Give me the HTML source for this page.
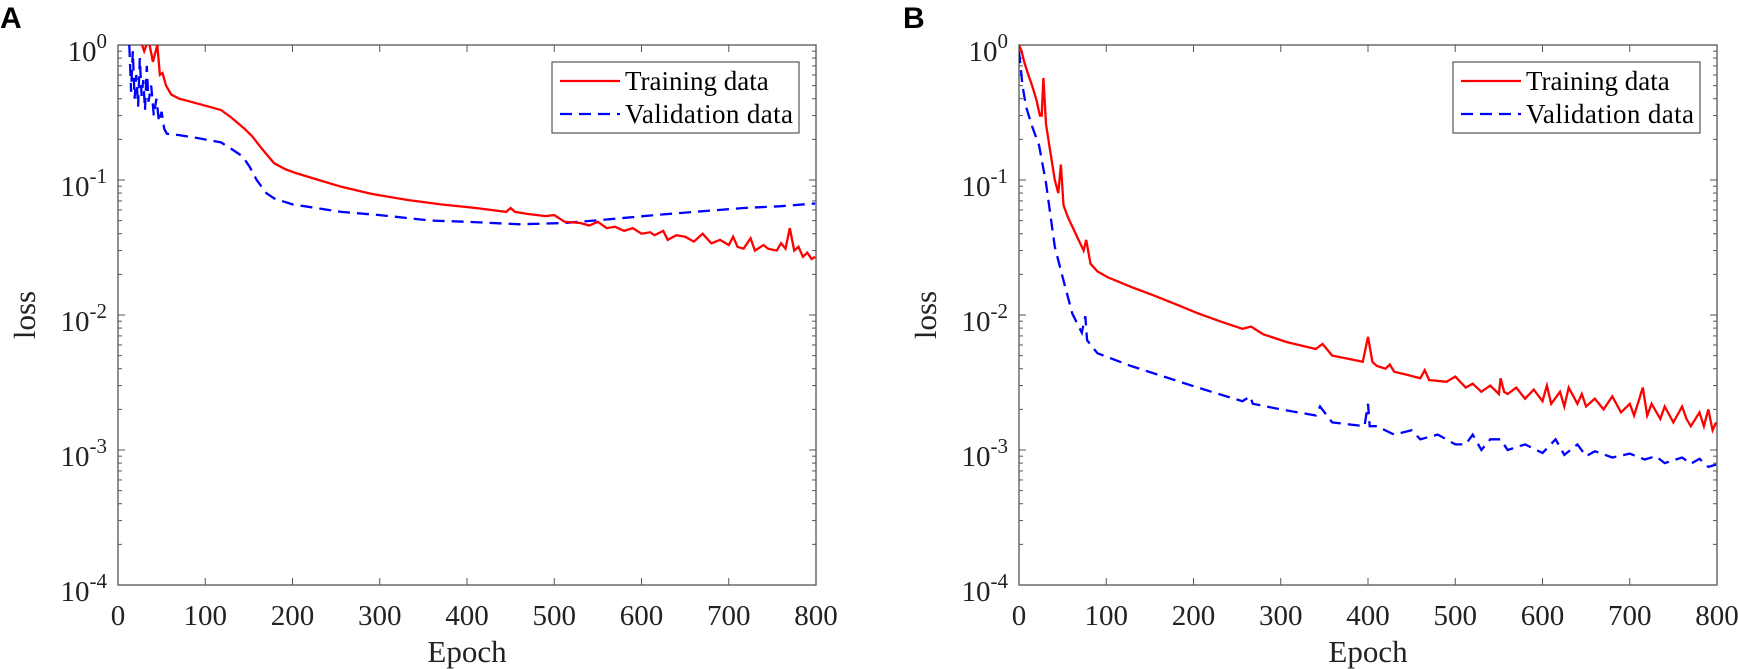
<!DOCTYPE html>
<html><head><meta charset="utf-8">
<style>
body{margin:0;background:#fff;}
svg{display:block;font-family:"Liberation Serif",serif;}
</style></head>
<body>
<svg id="chart" width="1738" height="669" viewBox="0 0 1738 669" xmlns="http://www.w3.org/2000/svg">
<text x="0" y="28" font-family="Liberation Sans, sans-serif" font-weight="bold" font-size="30">A</text>
<text x="903" y="28" font-family="Liberation Sans, sans-serif" font-weight="bold" font-size="30">B</text>
</svg>
<script>
// Panel A data
const aTrainEpochs = [25,30,35,40,45,48,51,55,61,70,77,90,100,118,130,145,154,165,179,192,205,230,256,290,333,370,410,445,450,455,470,490,500,512,530,540,550,560,570,580,590,600,610,615,625,630,640,650,660,670,680,690,700,705,710,717,725,730,740,745,755,760,765,770,775,780,785,790,795,799];
const aTrainLoss   = [1.2,0.9,1.1,0.75,1.0,0.6,0.62,0.5,0.43,0.40,0.39,0.37,0.355,0.33,0.29,0.24,0.21,0.17,0.133,0.12,0.112,0.10,0.089,0.079,0.071,0.066,0.062,0.058,0.062,0.058,0.056,0.054,0.055,0.049,0.048,0.046,0.049,0.044,0.045,0.042,0.044,0.040,0.041,0.039,0.042,0.036,0.039,0.038,0.035,0.040,0.034,0.036,0.033,0.038,0.032,0.031,0.037,0.030,0.033,0.031,0.030,0.034,0.031,0.044,0.030,0.032,0.027,0.029,0.026,0.027];
const aValEpochs = [13,15,17,19,21,23,25,27,29,31,33,35,38,41,44,47,50,53,56,70,90,118,130,143,151,159,170,179,200,256,300,359,400,461,512,560,615,660,717,760,799];
const aValLoss   = [1.0,0.45,0.9,0.4,0.6,0.35,0.8,0.42,0.55,0.33,0.7,0.38,0.5,0.3,0.4,0.27,0.32,0.24,0.22,0.215,0.205,0.19,0.17,0.149,0.125,0.1,0.08,0.073,0.066,0.058,0.055,0.05,0.049,0.047,0.048,0.051,0.055,0.058,0.062,0.064,0.067];
// Panel B data
const bTrainEpochs = [0,3,6,10,15,20,24,26,28,31,36,41,45,48,51,56,65,74,77,82,90,102,130,154,180,205,230,256,266,280,307,340,348,359,380,394,400,405,410,420,425,430,445,460,465,470,490,500,512,520,530,540,550,552,556,560,570,580,590,600,605,610,620,625,630,640,645,650,660,670,680,690,700,705,715,720,725,735,740,750,760,765,770,780,785,790,795,799];
const bTrainLoss   = [1.0,0.9,0.75,0.62,0.5,0.39,0.3,0.3,0.57,0.26,0.16,0.1,0.08,0.13,0.065,0.053,0.04,0.03,0.036,0.024,0.021,0.019,0.016,0.014,0.012,0.0103,0.009,0.0079,0.0082,0.0072,0.0063,0.0056,0.0061,0.005,0.0047,0.0045,0.0069,0.0045,0.0042,0.0040,0.0043,0.0038,0.0036,0.0034,0.0039,0.0033,0.0032,0.0035,0.0029,0.0031,0.0027,0.0030,0.0026,0.0034,0.0027,0.0026,0.0029,0.0024,0.0028,0.0023,0.0030,0.0022,0.0027,0.0021,0.0029,0.0022,0.0026,0.0021,0.0024,0.0020,0.0025,0.0019,0.0022,0.0018,0.0029,0.0018,0.0022,0.0017,0.0021,0.0016,0.0021,0.0017,0.0015,0.0019,0.0015,0.0020,0.0014,0.0016];
const bValEpochs = [0,4,8,15,23,31,41,51,61,72,76,78,90,128,205,256,265,268,300,340,345,359,396,400,402,410,430,450,460,480,500,512,520,530,540,552,560,580,600,615,625,640,650,660,680,700,717,730,740,760,770,780,790,799];
const bValLoss   = [0.9,0.5,0.35,0.25,0.18,0.095,0.032,0.018,0.0103,0.0074,0.0098,0.0065,0.0052,0.0042,0.0029,0.0023,0.0025,0.0022,0.002,0.0018,0.0021,0.0016,0.0015,0.0022,0.0015,0.0015,0.0013,0.0014,0.0012,0.0013,0.0011,0.0011,0.0013,0.0010,0.0012,0.0012,0.0010,0.0011,0.00095,0.0012,0.00092,0.0011,0.0009,0.00098,0.00088,0.00094,0.00085,0.0009,0.0008,0.00088,0.00079,0.00086,0.00075,0.00078];
const xTicks = [0,100,200,300,400,500,600,700,800];
const yDecades = [-4,-3,-2,-1,0];

const NS='http://www.w3.org/2000/svg';
const svg=document.getElementById('chart');
function mk(tag,attrs,parent){const e=document.createElementNS(NS,tag);for(const k in attrs)e.setAttribute(k,attrs[k]);(parent||svg).appendChild(e);return e;}

function panel(id,L,trainE,trainL,valE,valL){
  const R=L+698,T=45,B=585;
  const xs=v=>L+(v/800)*(R-L);
  const ys=v=>{let lv=Math.log10(v);lv=Math.min(0.05,lv);return T+(0-lv)/4*(B-T);};
  const g=mk('g',{});
  
  
  const clipId='clip-'+id;
  const cp=mk('clipPath',{id:clipId},g);mk('rect',{x:L,y:T,width:R-L,height:B-T},cp);
  xTicks.forEach(t=>{
    const x=xs(t);
    mk('line',{x1:x,y1:B,x2:x,y2:B-7,stroke:'#555','stroke-width':1},g);
    mk('line',{x1:x,y1:T,x2:x,y2:T+7,stroke:'#555','stroke-width':1},g);
    const tx=mk('text',{x:x,y:625,'text-anchor':'middle','font-size':29,fill:'#222'},g);
    tx.textContent=t;
    
    
  });
  yDecades.forEach(d=>{
    const y=T+(0-d)/4*(B-T);
    mk('line',{x1:L,y1:y,x2:L+7,y2:y,stroke:'#555','stroke-width':1},g);
    mk('line',{x1:R,y1:y,x2:R-7,y2:y,stroke:'#555','stroke-width':1},g);
    if(d<0){for(let m=2;m<=9;m++){const yy=T+(0-(d+Math.log10(m)))/4*(B-T);
      mk('line',{x1:L,y1:yy,x2:L+4,y2:yy,stroke:'#555','stroke-width':1},g);
      mk('line',{x1:R,y1:yy,x2:R-4,y2:yy,stroke:'#555','stroke-width':1},g);}}
    const tx=mk('text',{x:L-11,y:y+16,'text-anchor':'end','font-size':29,fill:'#222'},g);
    
    
    const a=mk('tspan',{},tx);a.textContent='10';
    const s=mk('tspan',{dy:-13,'font-size':21},tx);s.textContent=String(d);
  });
  mk('rect',{x:L,y:T,width:R-L,height:B-T,fill:'none',stroke:'#555','stroke-width':1.3},g);
  const yl=mk('text',{x:L-83,y:(T+B)/2,'text-anchor':'middle','font-size':31,fill:'#222',transform:`rotate(-90 ${L-83} ${(T+B)/2})`},g);
  yl.textContent='loss';
  
  
  const xl=mk('text',{x:(L+R)/2,y:662,'text-anchor':'middle','font-size':31,fill:'#222'},g);
  xl.textContent='Epoch';
  
  
  const pts=(E,V)=>E.map((e,i)=>xs(e).toFixed(1)+','+ys(V[i]).toFixed(1)).join(' ');
  const vl=mk('polyline',{points:pts(valE,valL),fill:'none',stroke:'#0000ff','stroke-width':2.3,'stroke-dasharray':'12,7','clip-path':`url(#${clipId})`},g);
  
  
  const tl=mk('polyline',{points:pts(trainE,trainL),fill:'none',stroke:'#ff0000','stroke-width':2.3,'clip-path':`url(#${clipId})`},g);
  
  
  const lx=L+434,lg=mk('g',{},g);
  
  
  mk('rect',{x:lx,y:62,width:247,height:71,fill:'#fff',stroke:'#555','stroke-width':1.2},lg);
  mk('line',{x1:lx+8,y1:81,x2:lx+68,y2:81,stroke:'#ff0000','stroke-width':2.3},lg);
  mk('line',{x1:lx+8,y1:114,x2:lx+68,y2:114,stroke:'#0000ff','stroke-width':2.3,'stroke-dasharray':'12,7'},lg);
  const t1=mk('text',{x:lx+73,y:90,'font-size':27,fill:'#000'},lg);t1.textContent='Training data';
  
  
  const t2=mk('text',{x:lx+73,y:123,'font-size':27,fill:'#000',textLength:168},lg);t2.textContent='Validation data';
  
  
}
panel('panel-a',118,aTrainEpochs,aTrainLoss,aValEpochs,aValLoss);
panel('panel-b',1019,bTrainEpochs,bTrainLoss,bValEpochs,bValLoss);
</script>
</body></html>
